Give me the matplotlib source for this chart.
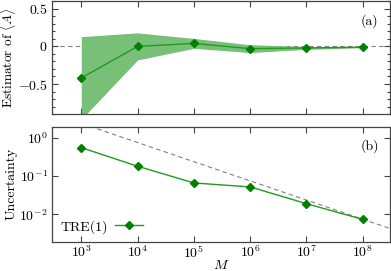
import numpy as np
import matplotlib
matplotlib.use('Agg')
import matplotlib.pyplot as plt
from matplotlib.ticker import FixedLocator, MultipleLocator, FuncFormatter, LogLocator, NullLocator

plt.rcParams['font.family'] = 'serif'
plt.rcParams['font.serif'] = ['cmr10', 'DejaVu Serif']
plt.rcParams['mathtext.fontset'] = 'cm'
plt.rcParams['axes.formatter.use_mathtext'] = True
plt.rcParams['font.size'] = 10

# data
M = [1e3, 1e4, 1e5, 1e6, 1e7, 1e8]
estimate = [-0.42, 0.0, 0.04, -0.03, -0.02, -0.01]
uncertainty = [0.55, 0.18, 0.066, 0.052, 0.019, 0.0074]
# 1/sqrt(M) guide line, two end points
ref_M = [10**2.5, 10**8.5]
ref_unc = [4.2, 0.0042]

green = '#008000'
line_green = '#229a22'
band_green = '#78c078'
spine_col = '#444444'

fig = plt.figure(figsize=(3.91, 2.71), dpi=100)
ax1 = fig.add_axes([0.133, 0.579, 0.864, 0.419])
ax2 = fig.add_axes([0.133, 0.107, 0.864, 0.426])

est = np.array(estimate)
unc = np.array(uncertainty)

# dashed zero line sits under the band
ax1.axhline(0, color='gray', ls=(0, (4, 3)), lw=0.8, zorder=1)
ax1.fill_between(M, est - unc, est + unc, color=band_green, lw=0, zorder=2)
ax1.plot(M, est, color=line_green, lw=1.0, marker='D', ms=4.5,
         mfc=green, mec=green, zorder=3)
ax1.set_xscale('log')
ax1.set_xlim(10**2.48, 10**8.48)
ax1.set_ylim(-0.9, 0.61)
ax1.yaxis.set_major_locator(FixedLocator([-0.5, 0, 0.5]))
ax1.yaxis.set_minor_locator(MultipleLocator(0.1))
ax1.yaxis.set_major_formatter(FuncFormatter(lambda v, p: r'$%g$' % v))
ax1.xaxis.set_major_locator(LogLocator(base=10, numticks=10))
ax1.xaxis.set_minor_locator(NullLocator())
ax1.set_xticklabels([])
ax1.set_ylabel(r'Estimator of $\langle A\rangle$', fontsize=9.6)
ax1.yaxis.set_label_coords(-0.102, 0.5)
ax1.text(0.94, 0.82, '(a)', transform=ax1.transAxes, ha='center', va='center')

ax2.plot(ref_M, ref_unc, color='gray', ls=(0, (4, 3)), lw=0.8)
ax2.plot(M, uncertainty, color=line_green, lw=1.0, marker='D', ms=4.5,
         mfc=green, mec=green, label='TRE(1)')
ax2.set_xscale('log')
ax2.set_yscale('log')
ax2.set_xlim(10**2.48, 10**8.48)
ax2.set_ylim(10**-2.72, 10**0.29)
ax2.xaxis.set_major_locator(LogLocator(base=10, numticks=10))
ax2.xaxis.set_minor_locator(NullLocator())
ax2.yaxis.set_major_locator(LogLocator(base=10, numticks=10))
ax2.yaxis.set_minor_locator(NullLocator())
ax2.set_xlabel(r'$M$', labelpad=-1)
ax2.set_ylabel('Uncertainty')
ax2.yaxis.set_label_coords(-0.102, 0.5)
ax2.text(0.94, 0.83, '(b)', transform=ax2.transAxes, ha='center', va='center')
ax2.legend(loc='lower left', frameon=False, markerfirst=False,
           handlelength=2.0, handletextpad=0.5, borderaxespad=0.2,
           bbox_to_anchor=(0.0, 0.0))

for ax in (ax1, ax2):
    for s in ax.spines.values():
        s.set_color(spine_col)
        s.set_linewidth(0.9)
    ax.tick_params(which='both', direction='in', top=True, right=True,
                   color=spine_col, width=0.8)
    ax.tick_params(which='major', length=4, pad=3)
    ax.tick_params(which='minor', length=2)
ax2.tick_params(axis='x', which='major', pad=1.5)

fig.savefig('out.png', dpi=100)
